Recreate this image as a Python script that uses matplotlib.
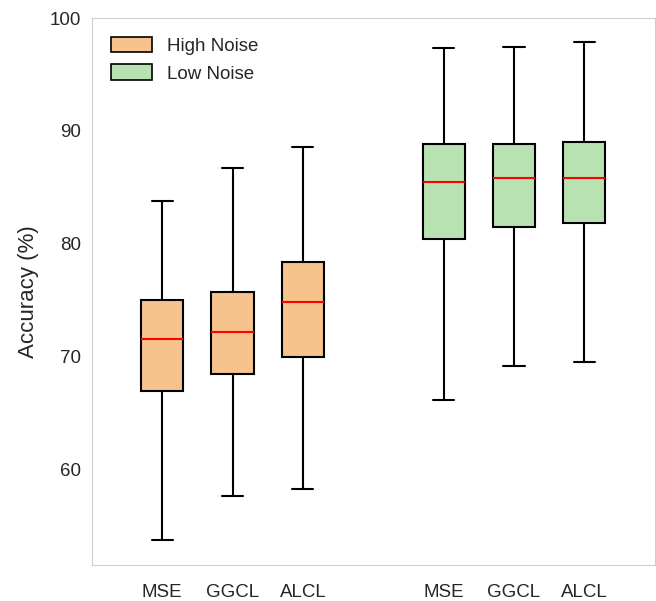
import matplotlib
matplotlib.use("Agg")
import matplotlib.pyplot as plt
import seaborn as sns
from matplotlib.patches import Patch

sns.set_style("whitegrid")
plt.rcParams['font.family'] = ['Liberation Sans', 'DejaVu Sans']

methods = ['MSE', 'GGCL', 'ALCL']
groups = ['High Noise', 'Low Noise']
colors = ['#f6c38c', '#b8e2b1']

# per box: whisker low, Q1, median, Q3, whisker high
high_stats = [
    [53.75, 66.96, 71.57, 75.0, 83.78],
    [57.6, 68.4, 72.2, 75.7, 86.68],
    [58.2, 69.9, 74.8, 78.4, 88.6],
]
low_stats = [
    [66.17, 80.44, 85.47, 88.84, 97.36],
    [69.12, 81.5, 85.79, 88.87, 97.47],
    [69.48, 81.82, 85.82, 89.02, 97.85],
]

def to_bxp(stats, label):
    out = []
    for s, lab in zip(stats, label):
        out.append({'whislo': s[0], 'q1': s[1], 'med': s[2], 'q3': s[3],
                    'whishi': s[4], 'fliers': [], 'label': lab})
    return out

fig, ax = plt.subplots(figsize=(6.56, 6.01), dpi=100)

pos_high = [1, 2, 3]
pos_low = [5, 6, 7]
for stats, pos, col in [(high_stats, pos_high, colors[0]), (low_stats, pos_low, colors[1])]:
    ax.bxp(to_bxp(stats, methods), positions=pos, widths=0.6, patch_artist=True,
           showfliers=False,
           boxprops=dict(facecolor=col, edgecolor='black', linewidth=1.5),
           medianprops=dict(color='red', linewidth=1.5),
           whiskerprops=dict(color='black', linewidth=1.5),
           capprops=dict(color='black', linewidth=1.5))

ax.set_xticks(pos_high + pos_low)
ax.set_xticklabels(methods + methods, fontsize=13.5)
ax.set_xlim(0, 8)
ax.set_ylim(51.5, 100)
ax.set_yticks([60, 70, 80, 90, 100])
ax.tick_params(axis='y', labelsize=13.5, pad=4)
ax.tick_params(axis='x', pad=10)
ax.set_ylabel('Accuracy (%)', fontsize=16, labelpad=8)
ax.grid(False)
for sp in ax.spines.values():
    sp.set_color('#cccccc')

handles = [Patch(facecolor=colors[0], edgecolor='black', linewidth=1.2, label=groups[0]),
           Patch(facecolor=colors[1], edgecolor='black', linewidth=1.2, label=groups[1])]
ax.legend(handles=handles, loc='upper left', frameon=False, fontsize=13.5,
          handlelength=2.2, handleheight=0.9, borderaxespad=0.6)

fig.subplots_adjust(left=0.14, right=0.998, top=0.97, bottom=0.06)
fig.savefig('out.png', dpi=100)
